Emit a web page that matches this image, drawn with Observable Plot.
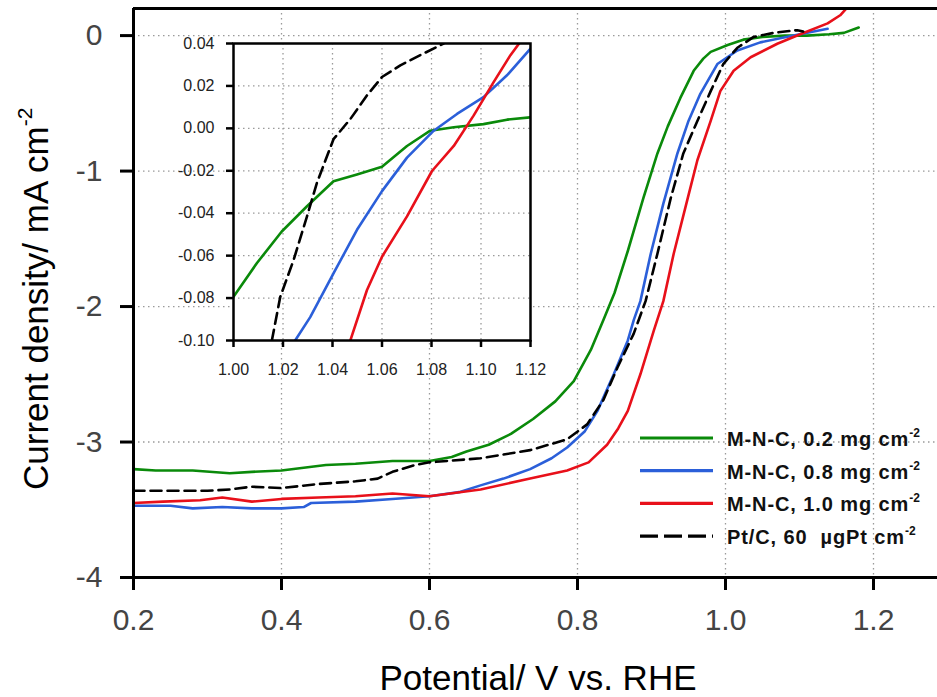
<!DOCTYPE html>
<html><head><meta charset="utf-8">
<script src="https://cdn.jsdelivr.net/npm/d3@7"></script>
<script src="https://cdn.jsdelivr.net/npm/@observablehq/plot@0.6"></script>
<style>
html,body{margin:0;padding:0;background:#fff;}
#wrap{position:relative;width:937px;height:697px;overflow:hidden;font-family:"Liberation Sans",Arial,sans-serif;}
#wrap > svg{position:absolute;}
</style></head><body><div id="wrap"></div>
<script>
// ---- series labels & colours ----
const seriesLabels = ["M-N-C, 0.2 mg cm", "M-N-C, 0.8 mg cm", "M-N-C, 1.0 mg cm", "Pt/C, 60\u00a0 \u00b5gPt cm"];
const seriesColors = ["#0a8a0a", "#2b5fd9", "#e8101a", "#000000"];
const seriesDash = [null, null, null, "11,6"];

// ---- main chart data (potential V vs RHE, current density mA cm-2) ----
const greenV = [0.20,0.23,0.28,0.33,0.36,0.40,0.43,0.46,0.50,0.55,0.60,0.63,0.65,0.68,0.71,0.74,0.77,0.795,0.818,0.835,0.85,0.868,0.889,0.908,0.922,0.939,0.957,0.970,0.980,1.003,1.024,1.05,1.08,1.11,1.14,1.16,1.18];
const greenJ = [-3.20,-3.21,-3.21,-3.23,-3.22,-3.21,-3.19,-3.17,-3.16,-3.14,-3.14,-3.11,-3.07,-3.02,-2.94,-2.83,-2.70,-2.55,-2.32,-2.10,-1.90,-1.59,-1.20,-0.87,-0.67,-0.46,-0.26,-0.17,-0.12,-0.07,-0.03,-0.01,0.00,0.00,0.01,0.02,0.06];

const blueV = [0.20,0.25,0.28,0.32,0.36,0.40,0.43,0.44,0.50,0.55,0.60,0.64,0.669,0.70,0.736,0.765,0.786,0.81,0.827,0.849,0.868,0.876,0.885,0.899,0.916,0.935,0.950,0.966,0.989,1.016,1.047,1.092,1.138];
const blueJ = [-3.47,-3.47,-3.49,-3.48,-3.49,-3.49,-3.48,-3.45,-3.44,-3.42,-3.40,-3.37,-3.32,-3.27,-3.20,-3.12,-3.04,-2.92,-2.77,-2.50,-2.25,-2.10,-1.96,-1.61,-1.24,-0.87,-0.63,-0.43,-0.21,-0.11,-0.05,0.00,0.05];

const redV = [0.20,0.24,0.29,0.32,0.36,0.40,0.45,0.50,0.55,0.60,0.669,0.736,0.786,0.815,0.840,0.855,0.868,0.885,0.903,0.916,0.930,0.949,0.962,0.980,0.993,1.011,1.034,1.070,1.101,1.138,1.155,1.165];
const redJ = [-3.45,-3.44,-3.43,-3.41,-3.44,-3.42,-3.41,-3.40,-3.38,-3.40,-3.35,-3.27,-3.21,-3.15,-3.02,-2.90,-2.77,-2.50,-2.18,-1.96,-1.61,-1.20,-0.92,-0.63,-0.41,-0.26,-0.16,-0.06,0.01,0.09,0.15,0.21];

const ptV = [0.20,0.25,0.30,0.33,0.36,0.40,0.45,0.50,0.53,0.55,0.58,0.60,0.669,0.736,0.786,0.813,0.835,0.854,0.876,0.892,0.908,0.926,0.943,0.962,0.980,0.997,1.016,1.038,1.065,1.097,1.105];
const ptJ = [-3.36,-3.36,-3.36,-3.35,-3.33,-3.34,-3.31,-3.29,-3.27,-3.22,-3.17,-3.15,-3.12,-3.06,-2.98,-2.87,-2.69,-2.45,-2.20,-1.96,-1.61,-1.20,-0.87,-0.63,-0.41,-0.21,-0.09,-0.01,0.02,0.04,0.03];

// ---- inset data (zoom 1.00–1.12 V) ----
const inGreenV = [1.000,1.0094,1.0195,1.0297,1.0404,1.0499,1.060,1.0701,1.0795,1.089,1.101,1.1105,1.120];
const inGreenJ = [-0.0794,-0.0636,-0.0486,-0.0367,-0.0249,-0.0217,-0.0181,-0.0083,-0.0011,0.0005,0.0020,0.0041,0.0052];
const inBlueV = [1.0249,1.031,1.0404,1.0499,1.060,1.0701,1.0809,1.0903,1.101,1.1105,1.120];
const inBlueJ = [-0.100,-0.089,-0.0684,-0.0478,-0.0296,-0.0138,-0.0011,0.0068,0.0147,0.0250,0.0376];
const inRedV = [1.0472,1.0539,1.060,1.0701,1.0802,1.089,1.097,1.1051,1.1119,1.1159];
const inRedJ = [-0.100,-0.0763,-0.0605,-0.0415,-0.0201,-0.0083,0.0060,0.0218,0.0345,0.0408];
const inPtV = [1.0155,1.0189,1.0243,1.0297,1.0337,1.0404,1.0472,1.0539,1.060,1.0674,1.0755,1.0849];
const inPtJ = [-0.100,-0.0794,-0.0620,-0.0415,-0.0257,-0.0051,0.0044,0.0155,0.0242,0.0297,0.0345,0.0400];

// ---- ticks ----
const xTicks = [0.2,0.4,0.6,0.8,1.0,1.2];
const yTicks = [0,-1,-2,-3,-4];
const xGrid = [0.4,0.6,0.8,1.0,1.2];
const yGrid = [0,-1,-2,-3];
const inXTicks = [1.00,1.02,1.04,1.06,1.08,1.10,1.12];
const inYTicks = [0.04,0.02,0.00,-0.02,-0.04,-0.06,-0.08,-0.10];
const inXGrid = [1.02,1.04,1.06,1.08,1.10];
const inYGrid = [0.02,0.00,-0.02,-0.04,-0.06,-0.08];

const zip = (V, J) => V.map((v, i) => ({V: v, J: J[i]}));
const mainSets = [zip(greenV, greenJ), zip(blueV, blueJ), zip(redV, redJ), zip(ptV, ptJ)];
const insetSets = [zip(inGreenV, inGreenJ), zip(inBlueV, inBlueJ), zip(inRedV, inRedJ), zip(inPtV, inPtJ)];

const gridStyle = {stroke: "#9a9a9a", strokeOpacity: 1, strokeWidth: 1.3, strokeDasharray: "1.5,3.5"};
const curveMarks = (sets, w) => sets.map((d, i) => Plot.line(d, {
  x: "V", y: "J", stroke: seriesColors[i], strokeWidth: w,
  strokeDasharray: seriesDash[i] || undefined, clip: true, curve: "linear"
}));

const FONT = "Liberation Sans, Arial, sans-serif";
const main = Plot.plot({
  width: 937, height: 697,
  marginLeft: 133, marginRight: 0, marginTop: 8, marginBottom: 120,
  style: {fontFamily: FONT, background: "transparent", overflow: "visible"},
  x: {domain: [0.2, 1.2865], label: null},
  y: {domain: [-4, 0.2], label: null},
  marks: [
    Plot.ruleX(xGrid, gridStyle),
    Plot.ruleY(yGrid, gridStyle),
    ...curveMarks(mainSets, 2.6),
    Plot.ruleX([0.2], {stroke: "black", strokeWidth: 3}),
    Plot.ruleY([-4], {stroke: "black", strokeWidth: 3}),
    Plot.ruleY([0.2], {stroke: "black", strokeWidth: 3}),
    Plot.axisX({ticks: xTicks, tickSize: 13, tickPadding: 18, tickFormat: d => d.toFixed(1),
      fontSize: 30, fill: "#444", stroke: "black", strokeWidth: 3, label: null}),
    Plot.axisY({ticks: yTicks, tickSize: 13, tickPadding: 18, tickFormat: d => String(d),
      fontSize: 30, fill: "#444", stroke: "black", strokeWidth: 3, label: null})
  ]
});
main.style.left = "0px"; main.style.top = "0px";

const svg = d3.select(main);
svg.append("text").attr("x", 538).attr("y", 690).attr("text-anchor", "middle")
  .attr("font-size", 35).attr("fill", "#000").attr("font-family", FONT).text("Potential/ V vs. RHE");
const yt = svg.append("text").attr("transform", "translate(48,490) rotate(-90)")
  .attr("text-anchor", "start")
  .attr("font-size", 35).attr("fill", "#000").attr("font-family", FONT);
yt.append("tspan").text("Current density/ mA cm");
yt.append("tspan").attr("dy", -16).attr("font-size", 21).text("-2");

// legend
const lg = svg.append("g").attr("font-family", FONT).attr("text-anchor", "start");
seriesLabels.forEach((lab, i) => {
  const y = 438 + i * 32.7;
  lg.append("line").attr("x1", 640).attr("x2", 713).attr("y1", y).attr("y2", y)
    .attr("stroke", seriesColors[i]).attr("stroke-width", 3.2)
    .attr("stroke-dasharray", i === 3 ? "18,6" : null);
  const t = lg.append("text").attr("x", 727).attr("y", y + 8).attr("font-size", 20)
    .attr("text-anchor", "start")
    .attr("font-weight", "bold").attr("letter-spacing", 0.9).attr("fill", "#111").attr("xml:space", "preserve");
  t.append("tspan").text(lab);
  t.append("tspan").attr("dy", -9).attr("font-size", 12).attr("letter-spacing", 0).text("-2");
});

const inset = Plot.plot({
  width: 380, height: 352,
  marginLeft: 73, marginRight: 10, marginTop: 15, marginBottom: 40,
  style: {fontFamily: FONT, background: "transparent", overflow: "visible"},
  x: {domain: [1.00, 1.12], label: null},
  y: {domain: [-0.10, 0.04], label: null},
  marks: [
    Plot.frame({fill: "white", stroke: null}),
    Plot.ruleX(inXGrid, gridStyle),
    Plot.ruleY(inYGrid, gridStyle),
    ...curveMarks(insetSets, 2.6),
    Plot.frame({stroke: "black", strokeWidth: 2.5}),
    Plot.axisX({ticks: inXTicks, tickSize: 7, tickPadding: 16, tickFormat: d => d.toFixed(2),
      fontSize: 16, fill: "#222", stroke: "black", strokeWidth: 2.5, label: null}),
    Plot.axisY({ticks: inYTicks, tickSize: 7, tickPadding: 12, tickFormat: d => d.toFixed(2),
      fontSize: 16, fill: "#222", stroke: "black", strokeWidth: 2.5, label: null})
  ]
});
inset.style.left = "160px"; inset.style.top = "28px";

const wrap = document.getElementById("wrap");
wrap.appendChild(main);
wrap.appendChild(inset);
</script></body></html>
